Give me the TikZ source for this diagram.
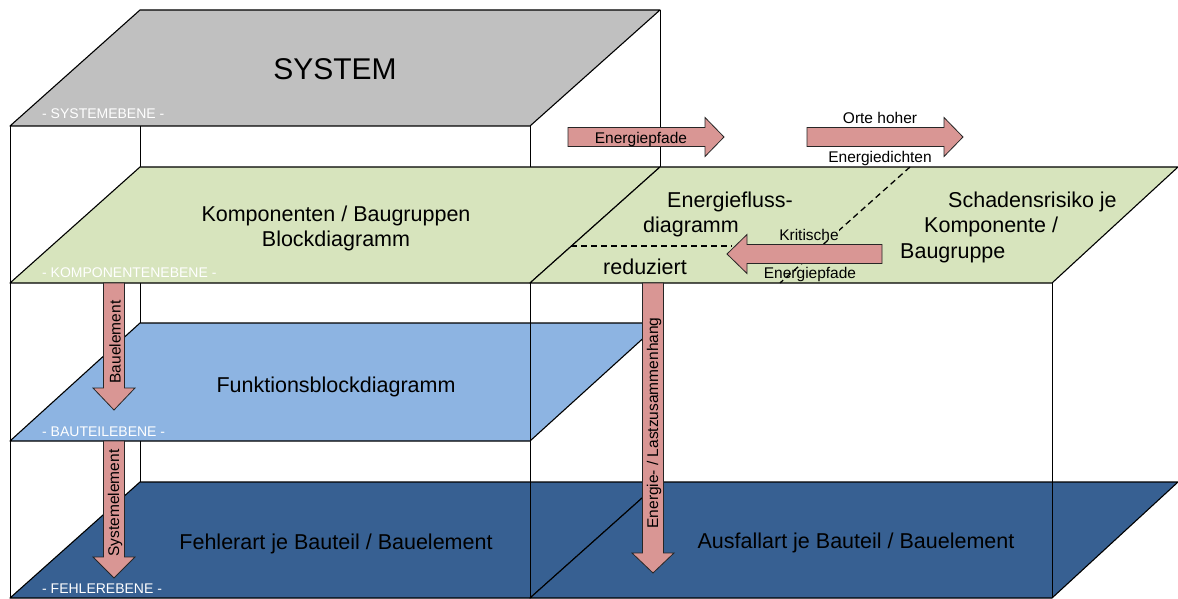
\documentclass[tikz,border=0pt]{standalone}
\usepackage{fontspec}
\setmainfont{Liberation Sans}
\definecolor{sysgray}{HTML}{C0C0C0}
\definecolor{kompgreen}{HTML}{D7E4BD}
\definecolor{baublue}{HTML}{8DB4E2}
\definecolor{fehlblue}{HTML}{376092}
\definecolor{arrowred}{HTML}{D99694}
\begin{document}
\begin{tikzpicture}[x=1pt,y=-1pt,
  plane/.style={draw=black, line width=1.1pt, line join=round},
  edge/.style={draw=black, line width=0.9pt},
  blockarrow/.style={fill=arrowred, draw=black!85, line width=0.8pt, line join=miter},
  big/.style={font=\fontsize{21.5}{26}\selectfont, inner sep=0pt, anchor=base},
  bigw/.style={font=\fontsize{21.5}{26}\selectfont, inner sep=0pt, anchor=base west},
  small/.style={font=\fontsize{15.5}{18}\selectfont, inner sep=0pt, anchor=base},
  lvl/.style={font=\fontsize{14}{16}\selectfont, text=white, inner sep=0pt, anchor=base west},
  vlabel/.style={font=\fontsize{15.5}{18}\selectfont, inner sep=0pt, rotate=90},
  dashline/.style={draw=black, line width=1.3pt, dash pattern=on 6pt off 4pt}]

\useasboundingbox (0,0) rectangle (1178,599);
\fill[white] (0,0) rectangle (1178,599);

% hidden back edges
\draw[edge] (140,126) -- (140,482);
\draw[edge] (660,10) -- (660,482);

% system plane
\path[plane, fill=sysgray] (10,126) -- (530,126) -- (660,10) -- (140,10) -- cycle;

% component planes
\path[plane, fill=kompgreen] (10,283) -- (530,283) -- (660,167) -- (140,167) -- cycle;
\path[plane, fill=kompgreen] (530,283) -- (1052,283) -- (1178,167) -- (660,167) -- cycle;

% part plane
\path[plane, fill=baublue] (10,441) -- (530,441) -- (660,323) -- (140,323) -- cycle;

% failure planes
\path[plane, fill=fehlblue] (10,598) -- (530,598) -- (660,482) -- (140,482) -- cycle;
\path[plane, fill=fehlblue] (530,598) -- (1052,598) -- (1178,482) -- (660,482) -- cycle;

% front edges
\draw[edge] (10,126) -- (10,598);
\draw[edge] (530,126) -- (530,167);
\draw[edge] (530,283) -- (530,598);
\draw[edge] (1052,283) -- (1052,598);

% dashed lines in the energy flow plane
\coordinate (dA) at (910,167);
\coordinate (dB) at (780,283);
\coordinate (hA) at (571,246);
\coordinate (hB) at (732,246);
\draw[dashline] (dA) -- (dB);
\draw[dashline] (hA) -- (hB);

% block arrows
\draw[blockarrow] (103.5,283) -- (103.5,388) -- (93,388) -- (114,410) -- (135,388) -- (124.5,388) -- (124.5,283) -- cycle;
\draw[blockarrow] (103.5,441) -- (103.5,557) -- (93,557) -- (114,578) -- (135,557) -- (124.5,557) -- (124.5,441) -- cycle;
\draw[blockarrow] (642.5,283) -- (642.5,553) -- (632,553) -- (653,573) -- (674,553) -- (663.5,553) -- (663.5,283) -- cycle;
\draw[blockarrow] (568,127.5) -- (705,127.5) -- (705,117.5) -- (724,137) -- (705,156.5) -- (705,146.5) -- (568,146.5) -- cycle;
\draw[blockarrow] (807,127.5) -- (944,127.5) -- (944,117.5) -- (963,137) -- (944,156.5) -- (944,146.5) -- (807,146.5) -- cycle;
\draw[blockarrow] (882,244.5) -- (747,244.5) -- (747,234.5) -- (727,254) -- (747,273.5) -- (747,263.5) -- (882,263.5) -- cycle;

% level labels
\node[lvl] (lsys) at (42,119) {- SYSTEMEBENE -};
\node[lvl] (lkomp) at (42,277) {- KOMPONENTENEBENE -};
\node[lvl] (lbau) at (42,436) {- BAUTEILEBENE -};
\node[lvl] (lfehl) at (42,593) {- FEHLEREBENE -};

% main texts
\node[font=\fontsize{30}{34}\selectfont, inner sep=0pt, anchor=base] (tsys) at (335,80) {SYSTEM};
\node[big] (tkomp1) at (336,221) {Komponenten / Baugruppen};
\node[big] (tkomp2) at (336,246) {Blockdiagramm};
\node[big] (tfunk) at (336,392) {Funktionsblockdiagramm};
\node[big, text=black] (tfehl) at (336,549) {Fehlerart je Bauteil / Bauelement};
\node[big, text=black] (tausf) at (856,548) {Ausfallart je Bauteil / Bauelement};
\node[bigw] (tef1) at (667,207) {Energiefluss-};
\node[bigw] (tef2) at (643,232) {diagramm};
\node[big] (tred) at (645,274) {reduziert};
\node[bigw] (tsr1) at (948,207) {Schadensrisiko je};
\node[bigw] (tsr2) at (924,232) {Komponente /};
\node[bigw] (tsr3) at (900,258) {Baugruppe};

% arrow labels
\node[small] (aep) at (641,143) {Energiepfade};
\node[small] (aoh) at (880,124) {Orte hoher};
\node[small] (aed) at (880,163) {Energiedichten};
\node[small, fill=kompgreen] (akr) at (809,240) {Kritische};
\node[small] (aep2) at (810,278) {Energiepfade};
\node[vlabel] (vbau) at (115,342) {Bauelement};
\node[vlabel] (vsys) at (115,503) {Systemelement};
\node[vlabel] (veng) at (654,423) {Energie- / Lastzusammenhang};
\end{tikzpicture}
\end{document}
